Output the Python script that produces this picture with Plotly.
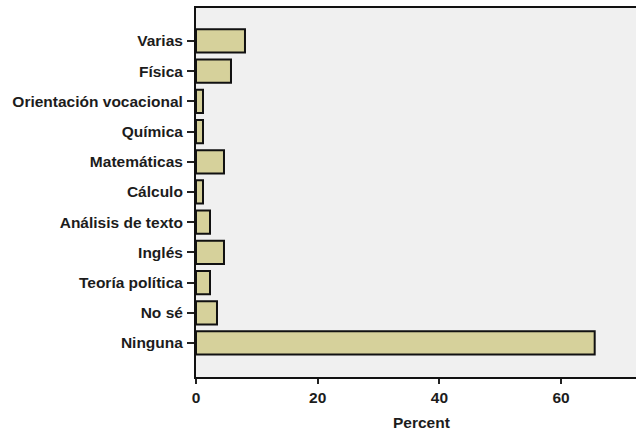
import plotly.graph_objects as go

categories = ["Varias", "Física", "Orientación vocacional", "Química", "Matemáticas",
              "Cálculo", "Análisis de texto", "Inglés", "Teoría política", "No sé", "Ninguna"]
percents = [8.05, 5.75, 1.15, 1.15, 4.60, 1.15, 2.30, 4.60, 2.30, 3.45, 65.52]
x_ticks = [0, 20, 40, 60]
x_title = "Percent"

W, H = 636, 434
L, R, T, B = 196, 0, 8, 57
plot_w = W - L - R
plot_h = H - T - B

font_main = dict(family="Liberation Sans, Arial, sans-serif", size=15.5, color="#1c1c1c", weight="bold")

fig = go.Figure(go.Bar(
    y=categories,
    x=percents,
    orientation="h",
    width=0.77,
    marker=dict(color="#d6d19b", line=dict(color="#111111", width=2)),
    hoverinfo="skip",
))

unit = 30.2
total = plot_h / unit
pad_bottom = 1.126
pad_top = total - (len(categories) - 1) - pad_bottom
fig.update_layout(
    width=W, height=H,
    margin=dict(l=L, r=R, t=T, b=B, pad=0),
    paper_bgcolor="white",
    plot_bgcolor="#f0f0f0",
    showlegend=False,
    font=font_main,
    xaxis=dict(
        range=[0, plot_w / 6.085],
        tickvals=x_ticks,
        ticktext=[str(v) for v in x_ticks],
        ticks="outside", ticklen=5, tickwidth=1.5, tickcolor="#222222",
        showline=True, linecolor="#111111", linewidth=2, mirror=True,
        showgrid=False, zeroline=False,
        tickfont=font_main,
    ),
    yaxis=dict(
        type="category",
        categoryorder="array", categoryarray=categories,
        range=[len(categories) - 1 + pad_bottom, -pad_top],
        ticks="outside", ticklen=7, tickwidth=1.5, tickcolor="#222222",
        showline=True, linecolor="#111111", linewidth=2,
        showgrid=False, zeroline=False,
        tickfont=font_main,
        ticklabelstandoff=1,
    ),
    annotations=[dict(
        text=x_title, xref="paper", yref="paper",
        x=(421 - L) / plot_w, y=-(422 - (T + plot_h)) / plot_h,
        xanchor="center", yanchor="middle", showarrow=False,
        font=font_main,
    )],
)

fig.write_html(
    "out.html",
    config={"displayModeBar": False},
    post_script="document.body.style.margin='0';document.body.style.overflow='hidden';",
)
